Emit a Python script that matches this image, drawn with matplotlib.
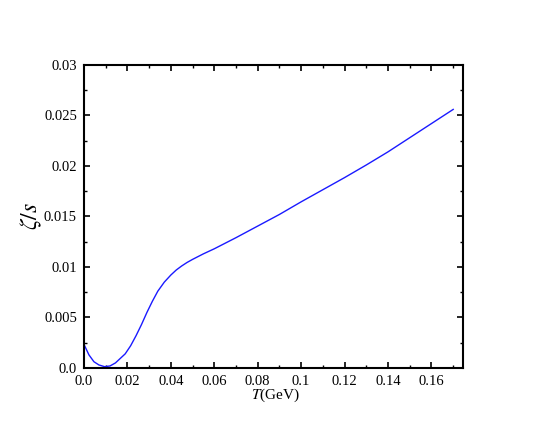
import matplotlib
matplotlib.use('Agg')
from matplotlib import pyplot as plt
from matplotlib.ticker import MultipleLocator, FixedFormatter, FixedLocator

plt.rcParams['font.family'] = ['Liberation Serif', 'DejaVu Serif']
plt.rcParams['mathtext.fontset'] = 'stix'

# values
T = [0.0, 0.0023, 0.0046, 0.0069, 0.0095, 0.012, 0.0145, 0.0165, 0.019,
     0.0215, 0.024, 0.0265, 0.029, 0.0315, 0.034, 0.037, 0.040, 0.0425,
     0.045, 0.0475, 0.05, 0.055, 0.06, 0.07, 0.08, 0.09, 0.1, 0.11, 0.12,
     0.13, 0.14, 0.155, 0.17]
zeta_s = [0.00235, 0.0013, 0.00062, 0.0003, 0.00013, 0.0002, 0.0005,
          0.0009, 0.0014, 0.0022, 0.0032, 0.0043, 0.0055, 0.0066, 0.0076,
          0.0085, 0.0092, 0.0097, 0.0101, 0.01045, 0.01075, 0.0113, 0.0118,
          0.0129, 0.01405, 0.0152, 0.01645, 0.01765, 0.01885, 0.0201, 0.0214,
          0.0235, 0.0256]

xticks = [0.0, 0.02, 0.04, 0.06, 0.08, 0.1, 0.12, 0.14, 0.16]
xlabels = ['0.0', '0.02', '0.04', '0.06', '0.08', '0.1', '0.12', '0.14', '0.16']
yticks = [0.0, 0.005, 0.01, 0.015, 0.02, 0.025, 0.03]
ylabels = ['0.0', '0.005', '0.01', '0.015', '0.02', '0.025', '0.03']

fig = plt.figure(figsize=(5.45, 4.36), dpi=100)
ax = fig.add_axes([0.154, 0.156, 0.6955, 0.695])
ax.plot(T, zeta_s, color='#1a1aff', lw=1.0)

ax.set_xlim(0, 0.1745)
ax.set_ylim(0, 0.03)
ax.xaxis.set_major_locator(FixedLocator(xticks))
ax.xaxis.set_major_formatter(FixedFormatter(xlabels))
ax.yaxis.set_major_locator(FixedLocator(yticks))
ax.yaxis.set_major_formatter(FixedFormatter(ylabels))
ax.xaxis.set_minor_locator(MultipleLocator(0.01))
ax.yaxis.set_minor_locator(MultipleLocator(0.0025))
ax.tick_params(which='both', direction='in', top=True, right=True, labelsize=10.5)
ax.tick_params(which='major', length=4, width=1.2, pad=5)
ax.tick_params(which='minor', length=2.5, width=1.0)
for s in ax.spines.values():
    s.set_linewidth(1.5)

fig.text(0.505, 0.094, '$T$(GeV)', ha='center', va='center', fontsize=11)
fig.text(0.058, 0.505, r'$\zeta/s$', ha='center', va='center', fontsize=17, rotation=90)

fig.savefig('out.png', dpi=100)
